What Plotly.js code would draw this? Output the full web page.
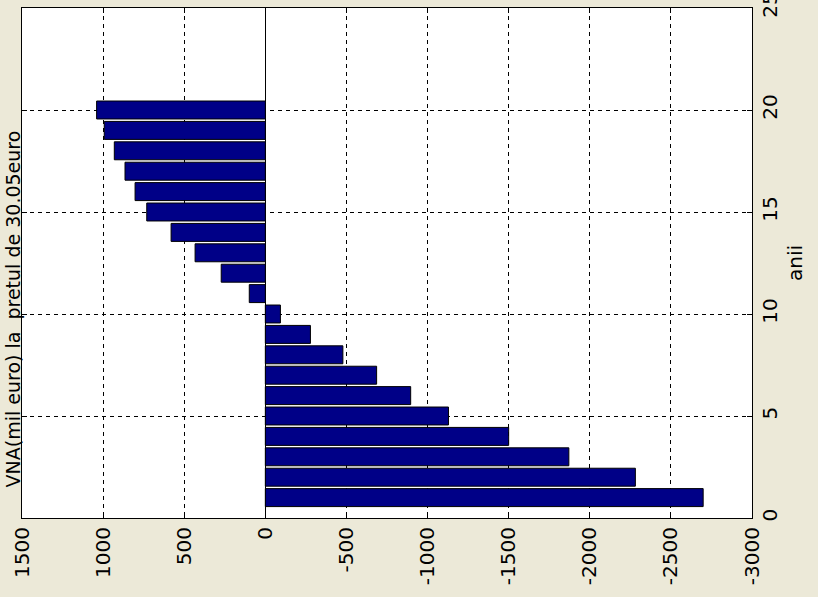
<!DOCTYPE html>
<html>
<head>
<meta charset="utf-8">
<script src="https://cdn.plot.ly/plotly-3.0.1.min.js"></script>
<style>
  html, body { margin: 0; padding: 0; background: #ECE9D8; }
  #chart { width: 818px; height: 597px; }
</style>
</head>
<body>
<div id="chart"></div>
<script>
// Years (anii)
const years = [1,2,3,4,5,6,7,8,9,10,11,12,13,14,15,16,17,18,19,20];
// VNA (mil euro) values
const vna = [-2699,-2281,-1871,-1500,-1129,-896,-686,-478,-278,-93,
             99,272,433,581,731,803,865,931,993,1040];
const xTicks = [1500,1000,500,0,-500,-1000,-1500,-2000,-2500,-3000];
const yTicks = [0,5,10,15,20,25];
const titleText = "VNA(mil euro) la  pretul de 30.05euro";
const yTitle = "anii";

const trace = {
  type: 'bar',
  orientation: 'h',
  x: vna,
  y: years,
  marker: { color: 'rgb(0,0,135)', line: { color: '#000000', width: 1 } },
  hoverinfo: 'skip'
};

const gridDash = '4px,4px';
const font = { family: 'DejaVu Sans, Arial, sans-serif', size: 20, color: '#000' };

const layout = {
  width: 818, height: 597,
  paper_bgcolor: '#ECE9D8',
  plot_bgcolor: '#FFFFFF',
  margin: { l: 22, r: 66, t: 8, b: 79 },
  showlegend: false,
  bargap: 0.12,
  font: font,
  xaxis: {
    range: [1500, -3000],
    tickvals: xTicks,
    ticktext: xTicks.map(String),
    tickangle: -90,
    ticks: 'inside', ticklen: 5, tickcolor: '#000',
    showline: true, linecolor: '#000', linewidth: 1, mirror: 'ticks',
    showgrid: true, gridcolor: '#000', griddash: gridDash, gridwidth: 1,
    zeroline: true, zerolinecolor: '#000', zerolinewidth: 1,
    tickfont: font
  },
  yaxis: {
    range: [0, 25],
    side: 'right',
    tickvals: yTicks,
    ticktext: yTicks.map(String),
    tickangle: -90,
    ticklabeloverflow: 'allow',
    ticks: 'inside', ticklen: 5, tickcolor: '#000',
    showline: true, linecolor: '#000', linewidth: 1, mirror: 'ticks',
    showgrid: true, gridcolor: '#000', griddash: gridDash, gridwidth: 1,
    zeroline: false,
    tickfont: font,
    title: { text: yTitle, font: font, standoff: 6 }
  },
  annotations: [{
    text: titleText,
    textangle: -90,
    xref: 'paper', yref: 'paper',
    x: 0, y: 0.055,
    xanchor: 'left', yanchor: 'bottom',
    xshift: -22,
    showarrow: false,
    font: { family: 'DejaVu Sans, Arial, sans-serif', size: 19, color: '#000' }
  }]
};

Plotly.newPlot('chart', [trace], layout, { displayModeBar: false, staticPlot: true });
</script>
</body>
</html>
